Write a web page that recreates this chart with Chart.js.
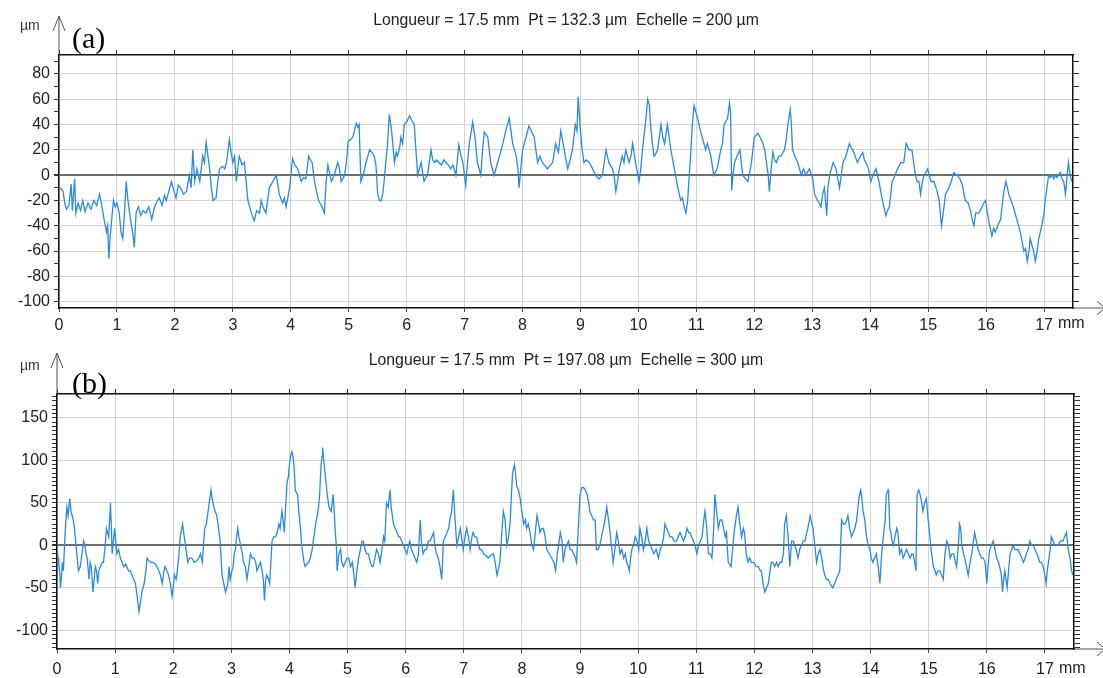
<!DOCTYPE html>
<html>
<head>
<meta charset="utf-8">
<script src="https://cdn.jsdelivr.net/npm/chart.js@4.4.1/dist/chart.umd.min.js"></script>
<style>
  html, body { margin: 0; padding: 0; background: #fff; }
  .panel { position: absolute; left: 0; width: 1103px; height: 339px; }
</style>
</head>
<body>
<div class="panel" style="top:0"><canvas id="profile-a" width="1103" height="339"></canvas></div>
<div class="panel" style="top:339px"><canvas id="profile-b" width="1103" height="339"></canvas></div>
<script>
// positions along the profile (mm)
const xTicks = [0, 1, 2, 3, 4, 5, 6, 7, 8, 9, 10, 11, 12, 13, 14, 15, 16, 17];
const yLabelsA = [-100, -80, -60, -40, -20, 0, 20, 40, 60, 80];
const yLabelsB = [-100, -50, 0, 50, 100, 150];
const titleA = 'Longueur = 17.5 mm  Pt = 132.3 µm  Echelle = 200 µm';
const titleB = 'Longueur = 17.5 mm  Pt = 197.08 µm  Echelle = 300 µm';

// profile (a): [mm, µm]
const profileA = [
  [0.00,-9],[0.04,-11],[0.07,-13],[0.10,-22],[0.13,-27],[0.17,-24],[0.21,-7],[0.23,-28],[0.27,-3],[0.29,-30],
  [0.33,-22],[0.37,-28],[0.41,-20],[0.45,-29],[0.50,-22],[0.55,-27],[0.60,-20],[0.65,-24],[0.70,-15],[0.73,-22],
  [0.76,-30],[0.79,-38],[0.82,-45],[0.84,-40],[0.86,-66],[0.88,-50],[0.90,-40],[0.94,-20],[0.97,-25],[1.00,-22],
  [1.04,-30],[1.07,-45],[1.10,-50],[1.13,-30],[1.16,-5],[1.19,-20],[1.22,-30],[1.25,-40],[1.27,-45],[1.30,-57],
  [1.33,-30],[1.37,-25],[1.41,-32],[1.45,-28],[1.50,-30],[1.55,-25],[1.60,-35],[1.65,-25],[1.70,-20],[1.73,-18],
  [1.78,-24],[1.82,-16],[1.85,-20],[1.90,-12],[1.94,-5],[1.98,-12],[2.02,-18],[2.06,-8],[2.10,-10],[2.15,-15],
  [2.20,-13],[2.25,0],[2.28,-10],[2.31,20],[2.34,-5],[2.38,5],[2.43,-5],[2.48,15],[2.51,10],[2.54,26],
  [2.57,15],[2.60,5],[2.63,-10],[2.66,-20],[2.71,-18],[2.74,-5],[2.77,5],[2.82,7],[2.86,5],[2.89,10],
  [2.94,28],[2.97,18],[3.00,10],[3.03,15],[3.06,-5],[3.11,15],[3.16,8],[3.20,10],[3.23,-5],[3.26,-20],
  [3.29,-25],[3.32,-30],[3.37,-36],[3.41,-28],[3.46,-30],[3.49,-20],[3.52,-25],[3.57,-30],[3.60,-20],[3.63,-10],
  [3.69,-5],[3.75,0],[3.78,-8],[3.80,-15],[3.86,-22],[3.89,-18],[3.92,-25],[3.98,-10],[4.03,13],[4.07,8],
  [4.12,5],[4.18,-5],[4.22,-2],[4.26,-3],[4.31,15],[4.34,12],[4.37,10],[4.40,-2],[4.43,-10],[4.48,-20],
  [4.54,-25],[4.58,-30],[4.61,-5],[4.64,8],[4.70,-5],[4.75,0],[4.81,10],[4.84,5],[4.87,-5],[4.93,0],
  [4.96,10],[4.99,27],[5.03,28],[5.07,30],[5.10,35],[5.13,41],[5.16,38],[5.18,40],[5.21,-5],[5.25,0],
  [5.30,10],[5.36,20],[5.40,18],[5.44,15],[5.47,8],[5.50,-15],[5.53,-20],[5.56,-20],[5.59,-14],[5.61,-5],
  [5.64,10],[5.67,25],[5.70,48],[5.74,35],[5.79,10],[5.82,18],[5.84,15],[5.88,22],[5.90,30],[5.93,25],
  [5.96,40],[6.00,42],[6.05,47],[6.09,43],[6.13,40],[6.16,20],[6.19,0],[6.22,5],[6.25,10],[6.30,-5],
  [6.33,-2],[6.36,0],[6.42,20],[6.45,12],[6.48,10],[6.52,12],[6.56,10],[6.60,8],[6.64,12],[6.68,10],
  [6.72,8],[6.76,5],[6.80,8],[6.85,0],[6.90,24],[6.94,15],[6.97,10],[7.02,-8],[7.05,10],[7.08,25],
  [7.14,42],[7.18,30],[7.22,10],[7.28,0],[7.31,20],[7.34,34],[7.37,32],[7.40,30],[7.45,10],[7.51,0],
  [7.54,5],[7.57,10],[7.62,18],[7.66,25],[7.71,35],[7.77,45],[7.80,35],[7.83,25],[7.89,15],[7.92,5],
  [7.94,-10],[7.97,5],[8.00,20],[8.06,30],[8.11,39],[8.15,35],[8.20,30],[8.26,10],[8.30,15],[8.34,10],
  [8.38,8],[8.43,5],[8.48,8],[8.52,10],[8.57,25],[8.62,18],[8.66,35],[8.72,20],[8.75,12],[8.78,5],
  [8.82,12],[8.86,20],[8.91,40],[8.94,35],[8.96,62],[9.00,35],[9.03,20],[9.06,10],[9.10,12],[9.15,10],
  [9.21,5],[9.26,0],[9.32,-3],[9.38,0],[9.41,10],[9.44,20],[9.49,10],[9.55,5],[9.58,0],[9.61,-13],
  [9.64,-5],[9.67,5],[9.72,15],[9.75,10],[9.78,20],[9.84,10],[9.87,15],[9.90,25],[9.95,10],[10.01,-5],
  [10.04,5],[10.07,20],[10.13,45],[10.16,60],[10.19,55],[10.21,40],[10.24,25],[10.27,15],[10.30,17],[10.33,20],
  [10.36,30],[10.39,40],[10.42,30],[10.45,25],[10.50,40],[10.53,30],[10.56,20],[10.62,5],[10.68,-10],[10.73,-20],
  [10.76,-18],[10.79,-25],[10.82,-30],[10.85,-20],[10.87,-5],[10.90,15],[10.93,40],[10.96,55],[10.99,50],[11.02,45],
  [11.07,35],[11.10,30],[11.13,25],[11.16,20],[11.19,25],[11.25,15],[11.30,0],[11.36,5],[11.42,20],[11.45,25],
  [11.48,40],[11.54,45],[11.57,57],[11.59,50],[11.61,-12],[11.63,0],[11.66,10],[11.70,15],[11.75,20],[11.80,0],
  [11.85,-3],[11.89,-5],[11.95,10],[12.00,30],[12.06,33],[12.10,30],[12.15,25],[12.18,20],[12.21,10],[12.24,0],
  [12.26,-13],[12.29,5],[12.32,18],[12.35,12],[12.38,10],[12.42,15],[12.46,15],[12.52,20],[12.55,28],[12.58,40],
  [12.62,52],[12.64,40],[12.66,20],[12.70,15],[12.75,10],[12.81,0],[12.85,5],[12.89,0],[12.95,5],[13.01,-3],
  [13.04,-15],[13.09,-20],[13.12,-22],[13.15,-25],[13.18,-15],[13.21,-10],[13.25,-32],[13.27,-10],[13.30,0],[13.36,10],
  [13.41,5],[13.47,-10],[13.53,10],[13.58,15],[13.64,25],[13.67,22],[13.70,20],[13.74,15],[13.78,10],[13.83,15],
  [13.87,18],[13.90,12],[13.93,10],[13.97,5],[14.01,-5],[14.05,0],[14.10,5],[14.15,-5],[14.21,-20],[14.27,-32],
  [14.30,-28],[14.33,-25],[14.38,-5],[14.43,0],[14.47,5],[14.53,10],[14.58,10],[14.62,25],[14.65,22],[14.67,20],
  [14.72,20],[14.75,10],[14.78,0],[14.81,-5],[14.84,-5],[14.87,-15],[14.90,-5],[14.93,0],[14.99,5],[15.05,-5],
  [15.10,-5],[15.15,-12],[15.19,-20],[15.23,-40],[15.26,-30],[15.30,-15],[15.36,-10],[15.40,-5],[15.44,2],[15.50,0],
  [15.55,-3],[15.59,-8],[15.64,-20],[15.69,-22],[15.73,-28],[15.76,-35],[15.79,-40],[15.82,-30],[15.87,-30],[15.90,-28],
  [15.93,-25],[15.96,-22],[15.99,-20],[16.04,-35],[16.10,-48],[16.13,-42],[16.16,-45],[16.20,-40],[16.25,-35],[16.30,-15],
  [16.34,-5],[16.37,-10],[16.39,-15],[16.43,-20],[16.47,-25],[16.53,-35],[16.59,-45],[16.62,-52],[16.65,-60],[16.68,-58],
  [16.71,-68],[16.74,-60],[16.76,-50],[16.79,-55],[16.82,-60],[16.85,-68],[16.88,-60],[16.91,-50],[16.96,-40],[17.00,-30],
  [17.02,-20],[17.05,-10],[17.08,0],[17.11,-2],[17.14,0],[17.17,-3],[17.19,0],[17.22,-2],[17.25,0],[17.28,2],
  [17.31,-3],[17.34,-5],[17.37,-15],[17.40,0],[17.42,10],[17.45,0],[17.48,-5]
];

// profile (b): [mm, µm]
const profileB = [
  [0.00,-30],[0.02,-15],[0.03,-20],[0.05,-35],[0.06,-50],[0.08,-35],[0.09,-20],[0.11,-30],[0.14,15],[0.17,45],
  [0.19,35],[0.22,55],[0.24,40],[0.26,35],[0.28,30],[0.30,20],[0.32,5],[0.34,-10],[0.37,-30],[0.40,-25],
  [0.43,-10],[0.46,5],[0.48,0],[0.50,-10],[0.52,-15],[0.55,-40],[0.57,-20],[0.59,-25],[0.62,-55],[0.64,-40],
  [0.66,-25],[0.68,-30],[0.70,-45],[0.72,-30],[0.75,-25],[0.78,-20],[0.80,-20],[0.83,0],[0.85,20],[0.87,15],
  [0.89,10],[0.92,50],[0.94,10],[0.95,-10],[0.97,5],[0.99,20],[1.01,5],[1.03,-10],[1.06,-5],[1.09,-15],
  [1.12,-20],[1.15,-25],[1.18,-22],[1.20,-25],[1.23,-30],[1.26,-30],[1.29,-35],[1.32,-40],[1.35,-45],[1.38,-60],
  [1.41,-78],[1.44,-65],[1.46,-55],[1.48,-50],[1.50,-45],[1.53,-30],[1.55,-15],[1.58,-18],[1.61,-20],[1.65,-20],
  [1.69,-22],[1.72,-25],[1.75,-30],[1.78,-35],[1.81,-45],[1.84,-30],[1.86,-25],[1.89,-30],[1.92,-35],[1.95,-45],
  [1.98,-60],[2.00,-50],[2.02,-35],[2.05,-40],[2.07,-30],[2.10,-10],[2.12,10],[2.16,25],[2.18,15],[2.21,0],
  [2.23,-10],[2.25,-20],[2.28,-15],[2.32,-15],[2.36,-20],[2.41,-18],[2.44,-15],[2.47,-10],[2.50,-20],[2.52,0],
  [2.54,20],[2.57,25],[2.59,35],[2.62,50],[2.65,65],[2.67,55],[2.70,45],[2.72,40],[2.75,35],[2.77,25],
  [2.80,10],[2.82,-10],[2.84,-35],[2.87,-45],[2.90,-55],[2.92,-50],[2.94,-45],[2.96,-25],[2.98,-40],[3.01,-30],
  [3.03,-25],[3.05,-10],[3.07,-5],[3.09,10],[3.11,20],[3.13,10],[3.16,0],[3.19,-10],[3.21,-20],[3.24,-25],
  [3.27,-40],[3.30,-25],[3.33,-10],[3.36,-15],[3.39,-15],[3.42,-20],[3.44,-30],[3.47,-25],[3.50,-20],[3.53,-30],
  [3.55,-40],[3.57,-65],[3.59,-40],[3.61,-35],[3.64,-40],[3.66,-45],[3.68,-20],[3.70,5],[3.73,10],[3.76,10],
  [3.79,15],[3.82,25],[3.84,20],[3.87,40],[3.89,30],[3.91,15],[3.93,40],[3.96,75],[3.98,80],[4.00,95],
  [4.02,105],[4.04,110],[4.06,105],[4.07,100],[4.09,80],[4.10,65],[4.12,62],[4.14,60],[4.16,40],[4.19,20],
  [4.21,0],[4.23,-10],[4.25,-20],[4.27,-25],[4.30,-22],[4.33,-20],[4.36,-15],[4.39,-5],[4.42,10],[4.45,25],
  [4.48,35],[4.50,45],[4.52,60],[4.54,90],[4.56,105],[4.57,115],[4.59,100],[4.62,80],[4.65,60],[4.68,45],
  [4.70,42],[4.72,40],[4.75,60],[4.77,40],[4.79,15],[4.81,-5],[4.82,-30],[4.85,-10],[4.88,-5],[4.90,-20],
  [4.93,-25],[4.96,-20],[4.99,-15],[5.02,-15],[5.05,-25],[5.08,-20],[5.11,-35],[5.13,-50],[5.16,-30],[5.19,-15],
  [5.22,-5],[5.25,5],[5.27,5],[5.30,-5],[5.33,-10],[5.36,-10],[5.39,-20],[5.42,-25],[5.44,-25],[5.47,-15],
  [5.50,-5],[5.53,-10],[5.56,-20],[5.59,-5],[5.62,10],[5.64,5],[5.67,50],[5.70,45],[5.73,65],[5.75,45],
  [5.77,35],[5.79,25],[5.82,20],[5.85,15],[5.88,10],[5.90,10],[5.93,5],[5.96,0],[5.99,-5],[6.02,-10],
  [6.05,0],[6.07,5],[6.10,-5],[6.13,-10],[6.16,-15],[6.19,-20],[6.22,-10],[6.25,30],[6.27,5],[6.30,-10],
  [6.33,-5],[6.36,-5],[6.39,5],[6.42,5],[6.45,10],[6.48,15],[6.50,0],[6.53,-10],[6.56,-15],[6.59,-25],
  [6.62,-40],[6.65,5],[6.68,10],[6.71,15],[6.74,20],[6.76,30],[6.79,40],[6.82,65],[6.85,30],[6.88,0],
  [6.91,10],[6.94,20],[6.97,5],[6.99,-5],[7.02,10],[7.05,20],[7.08,10],[7.11,-5],[7.14,10],[7.16,15],
  [7.19,10],[7.22,10],[7.25,0],[7.28,-5],[7.31,-5],[7.34,-10],[7.38,-12],[7.42,-15],[7.46,-12],[7.51,-10],
  [7.54,-20],[7.57,-35],[7.59,-30],[7.62,-20],[7.65,10],[7.68,40],[7.71,30],[7.74,0],[7.77,10],[7.80,30],
  [7.82,60],[7.84,85],[7.87,95],[7.89,85],[7.91,70],[7.94,65],[7.97,55],[8.00,40],[8.03,25],[8.06,30],
  [8.08,20],[8.11,25],[8.14,15],[8.17,0],[8.20,-5],[8.23,15],[8.26,35],[8.29,25],[8.31,15],[8.34,20],
  [8.37,20],[8.40,10],[8.43,-5],[8.47,-10],[8.51,-15],[8.55,-20],[8.58,-30],[8.61,-10],[8.63,0],[8.66,15],
  [8.69,5],[8.71,-20],[8.74,-5],[8.77,0],[8.80,5],[8.83,-5],[8.86,-5],[8.89,-10],[8.92,-15],[8.94,-20],
  [8.97,20],[9.00,60],[9.03,68],[9.06,68],[9.09,65],[9.12,60],[9.15,50],[9.17,40],[9.20,35],[9.23,30],
  [9.26,30],[9.28,-5],[9.31,-5],[9.34,0],[9.37,10],[9.40,20],[9.43,30],[9.46,45],[9.48,35],[9.51,20],
  [9.54,0],[9.57,-20],[9.60,-5],[9.63,15],[9.66,5],[9.69,-10],[9.72,-5],[9.75,-15],[9.78,-10],[9.80,-20],
  [9.83,-25],[9.85,-30],[9.87,-15],[9.89,-5],[9.92,0],[9.95,10],[9.98,5],[10.01,-5],[10.03,20],[10.06,10],
  [10.09,-5],[10.12,5],[10.15,20],[10.18,5],[10.21,0],[10.24,-5],[10.27,-10],[10.31,-5],[10.35,-15],[10.38,-5],
  [10.41,0],[10.44,10],[10.46,25],[10.49,20],[10.52,15],[10.55,10],[10.58,10],[10.62,5],[10.66,5],[10.69,10],
  [10.72,15],[10.75,10],[10.78,5],[10.81,10],[10.84,20],[10.87,15],[10.89,15],[10.92,10],[10.95,5],[10.98,0],
  [11.01,-10],[11.04,0],[11.07,5],[11.10,10],[11.13,30],[11.15,40],[11.18,20],[11.21,-10],[11.24,-10],[11.27,-15],
  [11.30,20],[11.32,60],[11.35,40],[11.38,20],[11.41,30],[11.44,30],[11.47,20],[11.50,10],[11.52,15],[11.55,-20],
  [11.60,-25],[11.63,0],[11.66,20],[11.69,35],[11.72,45],[11.75,25],[11.78,10],[11.81,20],[11.83,15],[11.86,-10],
  [11.89,-20],[11.92,-15],[11.95,-20],[11.99,-20],[12.03,-25],[12.07,-25],[12.10,-30],[12.12,-30],[12.15,-45],[12.18,-55],
  [12.21,-50],[12.24,-45],[12.27,-30],[12.29,-20],[12.32,-20],[12.35,-25],[12.38,-20],[12.41,-25],[12.44,-20],[12.47,-20],
  [12.50,-10],[12.52,25],[12.55,35],[12.58,10],[12.61,-25],[12.64,5],[12.67,5],[12.69,0],[12.72,-5],[12.75,-15],
  [12.78,-5],[12.81,0],[12.84,5],[12.87,5],[12.90,15],[12.92,20],[12.96,35],[12.99,25],[13.01,20],[13.04,0],
  [13.07,-20],[13.10,-10],[13.13,-5],[13.16,-15],[13.18,-25],[13.21,-35],[13.24,-40],[13.27,-40],[13.30,-45],[13.33,-48],
  [13.35,-50],[13.38,-45],[13.41,-40],[13.44,-35],[13.47,-30],[13.50,30],[13.53,25],[13.56,25],[13.59,30],[13.61,35],
  [13.64,20],[13.67,10],[13.70,15],[13.73,20],[13.76,30],[13.79,50],[13.81,60],[13.83,65],[13.85,55],[13.87,40],
  [13.90,30],[13.93,10],[13.96,0],[13.99,-5],[14.01,-15],[14.04,-20],[14.07,-15],[14.10,-10],[14.13,-25],[14.16,-45],
  [14.19,-10],[14.22,10],[14.25,30],[14.27,60],[14.30,65],[14.31,60],[14.33,20],[14.35,15],[14.37,5],[14.39,0],
  [14.42,10],[14.45,20],[14.47,15],[14.50,-10],[14.53,-5],[14.56,-15],[14.59,-10],[14.62,-5],[14.65,-10],[14.68,-15],
  [14.71,-10],[14.73,-10],[14.76,-20],[14.78,-30],[14.80,60],[14.83,65],[14.85,60],[14.88,50],[14.90,40],[14.93,50],
  [14.96,55],[14.99,30],[15.02,10],[15.05,-10],[15.08,-25],[15.11,-30],[15.13,-35],[15.16,-30],[15.19,-30],[15.22,-35],
  [15.25,-40],[15.28,-10],[15.31,5],[15.34,0],[15.37,-15],[15.40,-10],[15.43,-10],[15.46,-20],[15.48,-25],[15.51,0],
  [15.53,25],[15.55,20],[15.57,0],[15.60,-10],[15.62,-15],[15.65,-25],[15.68,-35],[15.71,-20],[15.74,-10],[15.77,5],
  [15.79,15],[15.82,5],[15.85,-5],[15.88,-10],[15.91,-15],[15.94,-15],[15.97,-20],[16.00,-45],[16.02,-25],[16.05,-5],
  [16.08,0],[16.11,5],[16.14,-5],[16.17,-15],[16.20,-20],[16.22,-25],[16.25,-35],[16.27,-55],[16.29,-40],[16.31,-30],
  [16.33,-40],[16.35,-50],[16.38,-25],[16.40,-10],[16.43,-5],[16.45,0],[16.48,-5],[16.51,-5],[16.54,-5],[16.57,-10],
  [16.60,-15],[16.63,-20],[16.66,-15],[16.68,-10],[16.71,-5],[16.74,5],[16.77,0],[16.80,0],[16.83,-5],[16.86,-10],
  [16.89,-15],[16.91,-20],[16.94,-20],[16.97,-25],[17.00,-35],[17.02,-45],[17.04,-30],[17.06,-20],[17.09,-5],[17.11,10],
  [17.14,5],[17.17,0],[17.20,0],[17.23,0],[17.26,5],[17.28,5],[17.31,5],[17.34,10],[17.37,15],[17.40,-5],
  [17.43,-15],[17.46,-30],[17.48,-35]
];

const SANS = '"Liberation Sans", Arial, sans-serif';
const LINE_BLUE = '#2b8ae0';

function stepTicks(min, max, step) {
  const out = [];
  for (let v = Math.ceil(min / step) * step; v <= max; v += step) out.push(v);
  return out;
}

// titles, arrows, (a)/(b) and the "mm" unit
const decor = {
  id: 'decor',
  afterDraw(chart, args, o) {
    const { ctx, chartArea: a } = chart;
    const xs = chart.scales.x;
    ctx.save();
    ctx.fillStyle = '#222';
    ctx.font = '15.8px ' + SANS;
    ctx.textAlign = 'center';
    ctx.textBaseline = 'alphabetic';
    ctx.fillText(o.title, 566, o.titleY);

    ctx.font = '14px ' + SANS;
    ctx.textAlign = 'left';
    ctx.fillStyle = '#333';
    ctx.fillText('µm', 20, o.unitY);

    ctx.strokeStyle = '#555';
    ctx.lineWidth = 1;
    ctx.beginPath();
    ctx.moveTo(a.left, a.top);
    ctx.lineTo(a.left, o.arrowY);
    ctx.moveTo(a.left - 6, o.arrowY + 15);
    ctx.lineTo(a.left, o.arrowY);
    ctx.lineTo(a.left + 6, o.arrowY + 15);
    ctx.moveTo(a.right, a.bottom);
    ctx.lineTo(1103, a.bottom);
    ctx.moveTo(1097, a.bottom - 7);
    ctx.lineTo(1105, a.bottom);
    ctx.lineTo(1097, a.bottom + 7);
    ctx.stroke();

    // unit after the last tick label
    ctx.font = '16px ' + SANS;
    ctx.fillStyle = '#222';
    ctx.textBaseline = 'middle';
    ctx.fillText('mm', xs.getPixelForValue(17) + 14, o.mmY);

    ctx.font = '30px "Liberation Serif", "Times New Roman", serif';
    ctx.fillStyle = '#000';
    ctx.textBaseline = 'alphabetic';
    ctx.fillText(o.tag, 72, o.tagY);
    ctx.restore();
  }
};

function makePanel(id, points, p) {
  const minor = stepTicks(p.yMin, p.yMax, p.minorStep);
  const frame = { display: true, color: '#111', width: 1.5 };
  return new Chart(document.getElementById(id), {
    type: 'line',
    data: {
      datasets: [{
        data: points.map(pt => ({ x: pt[0], y: pt[1] })),
        borderColor: LINE_BLUE,
        borderWidth: 1.3,
        pointRadius: 0,
        tension: 0
      }]
    },
    options: {
      responsive: false,
      animation: false,
      devicePixelRatio: 1,
      layout: { padding: 0 },
      plugins: {
        legend: { display: false },
        tooltip: { enabled: false },
        decor: p.decor
      },
      scales: {
        x: {
          type: 'linear', position: 'bottom', min: 0, max: 17.5,
          afterBuildTicks: s => { s.ticks = xTicks.map(v => ({ value: v })); },
          afterFit: s => { s.height = p.bottomH; },
          border: frame,
          grid: { color: '#d3d3d3', lineWidth: 1, tickLength: 4, tickColor: '#444' },
          ticks: { font: { family: SANS, size: 16 }, color: '#222', padding: p.xPad, maxRotation: 0, autoSkip: false }
        },
        xTop: {
          type: 'linear', position: 'top', min: 0, max: 17.5,
          afterBuildTicks: s => { s.ticks = xTicks.map(v => ({ value: v })); },
          afterFit: s => { s.height = p.topH; },
          border: frame,
          grid: { drawOnChartArea: false, tickLength: 5, tickColor: '#333' },
          ticks: { callback: () => '', autoSkip: false }
        },
        y: {
          type: 'linear', position: 'left', min: p.yMin, max: p.yMax,
          afterBuildTicks: s => { s.ticks = minor.map(v => ({ value: v })); },
          afterFit: s => { s.width = p.leftW; },
          border: frame,
          grid: {
            color: c => c.tick.value === 0 ? '#6f6f6f' : (p.yLabels.includes(c.tick.value) ? '#d3d3d3' : 'rgba(0,0,0,0)'),
            lineWidth: c => c.tick.value === 0 ? 2 : 1,
            tickLength: 5,
            tickColor: '#333'
          },
          ticks: {
            callback: v => p.yLabels.includes(v) ? String(v) : '',
            font: { family: SANS, size: 16 }, color: '#222', padding: 4, autoSkip: false
          }
        },
        yRight: {
          type: 'linear', position: 'right', min: p.yMin, max: p.yMax,
          afterBuildTicks: s => { s.ticks = minor.map(v => ({ value: v })); },
          afterFit: s => { s.width = p.rightW; },
          border: frame,
          grid: { drawOnChartArea: false, tickLength: 6, tickColor: '#333' },
          ticks: { callback: () => '', autoSkip: false }
        }
      }
    },
    plugins: [decor]
  });
}

makePanel('profile-a', profileA, {
  yMin: -105, yMax: 95, minorStep: 10, yLabels: yLabelsA,
  leftW: 59, rightW: 30, topH: 55, bottomH: 31, xPad: 4,
  decor: { title: titleA, tag: '(a)', titleY: 25, unitY: 30, arrowY: 16, tagY: 48, mmY: 324 }
});

makePanel('profile-b', profileB, {
  yMin: -122, yMax: 178, minorStep: 5, yLabels: yLabelsB,
  leftW: 57, rightW: 29, topH: 55, bottomH: 29, xPad: 7,
  decor: { title: titleB, tag: '(b)', titleY: 26, unitY: 31, arrowY: 14, tagY: 54, mmY: 330 }
});
</script>
</body>
</html>
